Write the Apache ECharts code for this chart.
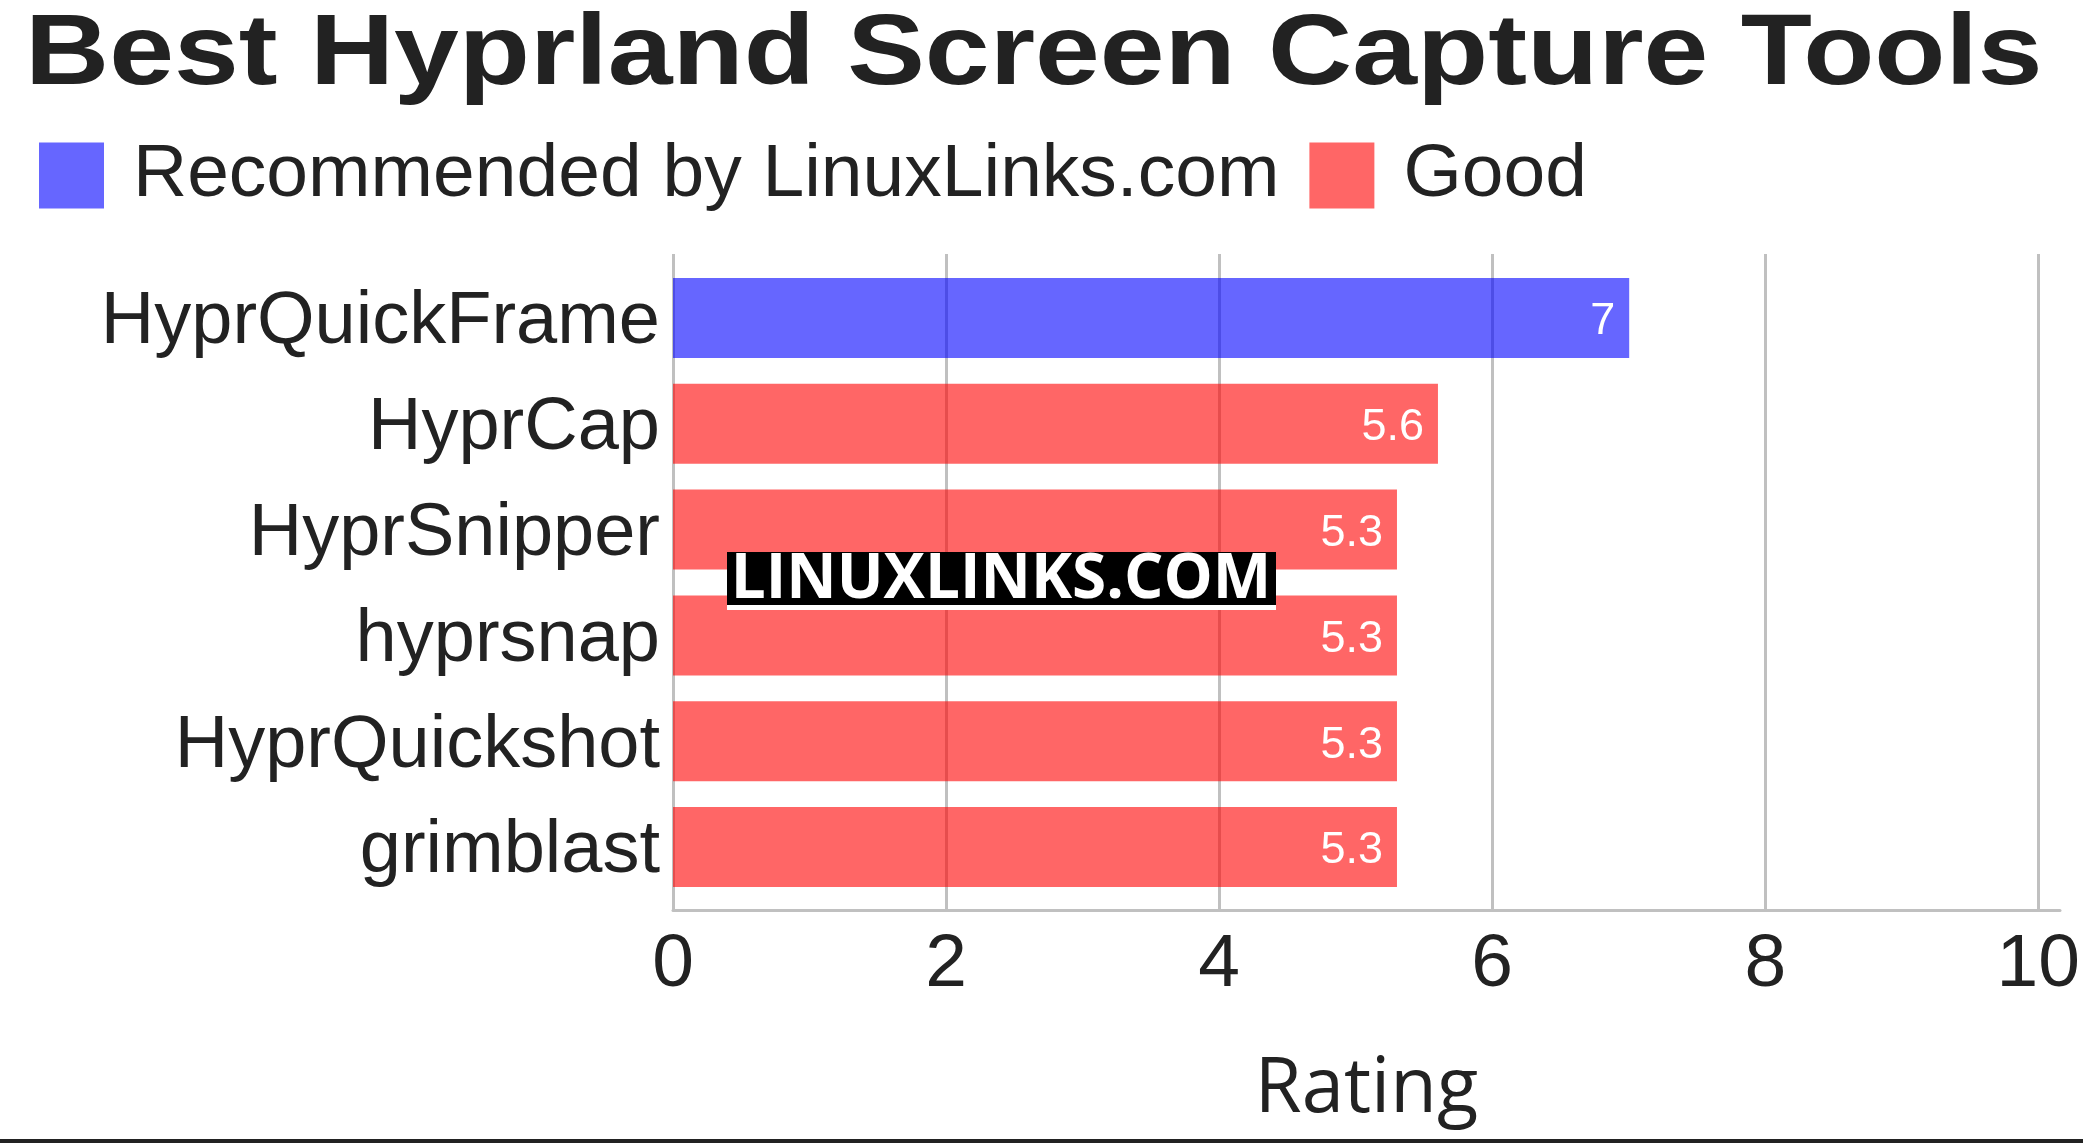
<!DOCTYPE html>
<html>
<head>
<meta charset="utf-8">
<script src="https://cdn.jsdelivr.net/npm/echarts@6/dist/echarts.min.js"></script>
<style>
  html, body { margin: 0; padding: 0; background: #ffffff; }
  #chart { width: 2083px; height: 1143px; }
</style>
</head>
<body>
<div id="chart"></div>
<script>
// Chart content
const chartTitle = 'Best Hyprland Screen Capture Tools';
const tools = ['HyprQuickFrame', 'HyprCap', 'HyprSnipper', 'hyprsnap', 'HyprQuickshot', 'grimblast'];
const seriesNames = ['Recommended by LinuxLinks.com', 'Good'];
const recommendedRatings = [7, null, null, null, null, null];
const goodRatings = [null, 5.6, 5.3, 5.3, 5.3, 5.3];
const ratingTicks = [0, 2, 4, 6, 8, 10];
const axisTitle = 'Rating';
const watermarkText = 'LINUXLINKS.COM';

const TEXT = '#222222';
const GRID = '#c0c0c0';
const SANS = '"Liberation Sans", Arial, sans-serif';

const axisMin = ratingTicks[0];
const axisMax = ratingTicks[ratingTicks.length - 1];
const axisStep = ratingTicks[1] - ratingTicks[0];

const chart = echarts.init(document.getElementById('chart'), null, { renderer: 'canvas' });

// white value text inside the bar end; a short top-aligned line box nudges the glyphs onto the bar's centre
const valueLabel = {
  show: true,
  position: 'insideRight',
  distance: 14,
  color: '#ffffff',
  fontSize: 45,
  fontFamily: SANS,
  verticalAlign: 'top',
  lineHeight: 8
};

chart.setOption({
  backgroundColor: '#ffffff',
  animation: false,
  legend: {
    data: seriesNames,
    left: 34,
    top: 133,
    icon: 'rect',
    itemWidth: 65,
    itemHeight: 66,
    itemGap: 30,
    textStyle: { fontSize: 75, fontFamily: SANS, color: TEXT, padding: [0, 0, 0, 24] }
  },
  grid: [
    // bars
    { left: 673, top: 265, width: 1366, height: 635 },
    // vertical grid lines and tick labels
    { left: 673, top: 254, width: 1366, height: 656 },
    // bottom axis line and axis title
    { left: 673, top: 254, width: 1387, height: 656 }
  ],
  xAxis: [
    { type: 'value', gridIndex: 0, min: axisMin, max: axisMax, interval: axisStep, show: false },
    {
      type: 'value', gridIndex: 1, min: axisMin, max: axisMax, interval: axisStep,
      axisLine: { show: false }, axisTick: { show: false },
      splitLine: { show: true, lineStyle: { color: GRID, width: 3 } },
      axisLabel: { fontSize: 75, fontFamily: SANS, color: TEXT, margin: 18 }
    },
    {
      type: 'value', gridIndex: 2, min: 0, max: 1,
      axisLine: { show: true, lineStyle: { color: GRID, width: 3 } },
      axisTick: { show: false }, axisLabel: { show: false }, splitLine: { show: false },
      name: axisTitle, nameLocation: 'middle', nameGap: 142,
      nameTextStyle: { fontSize: 76, fontFamily: '"Open Sans", sans-serif', color: TEXT }
    }
  ],
  yAxis: [
    {
      type: 'category', gridIndex: 0, data: tools, inverse: true,
      axisLine: { show: false }, axisTick: { show: false }, splitLine: { show: false },
      axisLabel: { fontSize: 74, fontFamily: SANS, color: TEXT, margin: 13, verticalAlign: 'top', lineHeight: 10 }
    },
    { type: 'value', gridIndex: 1, show: false },
    { type: 'value', gridIndex: 2, show: false }
  ],
  series: [
    {
      name: seriesNames[0], type: 'bar', stack: 'rating', xAxisIndex: 0, yAxisIndex: 0,
      data: recommendedRatings, barCategoryGap: '24.4%',
      itemStyle: { color: 'rgba(0,0,255,0.6)' }, label: valueLabel
    },
    {
      name: seriesNames[1], type: 'bar', stack: 'rating', xAxisIndex: 0, yAxisIndex: 0,
      data: goodRatings, barCategoryGap: '24.4%',
      itemStyle: { color: 'rgba(255,0,0,0.6)' }, label: valueLabel
    }
  ],
  graphic: [
    {
      type: 'text', x: 25, y: 56, z: 100, scaleX: 1.165,
      style: { text: chartTitle, font: 'bold 100px ' + SANS, fill: TEXT, verticalAlign: 'middle', align: 'left' }
    },
    {
      type: 'group', z: 100,
      children: [
        { type: 'rect', shape: { x: 727, y: 552, width: 549, height: 58 }, style: { fill: '#ffffff' }, z: 100 },
        { type: 'rect', shape: { x: 727, y: 552, width: 549, height: 53 }, style: { fill: '#000000' }, z: 101 },
        {
          type: 'text', x: 1001, y: 580, z: 102,
          style: { text: watermarkText, font: 'bold 62px "Open Sans", sans-serif', fill: '#ffffff', align: 'center', verticalAlign: 'middle' }
        }
      ]
    },
    { type: 'rect', shape: { x: 0, y: 1139, width: 2083, height: 4 }, style: { fill: '#222222' }, z: 100 }
  ]
});
</script>
</body>
</html>
